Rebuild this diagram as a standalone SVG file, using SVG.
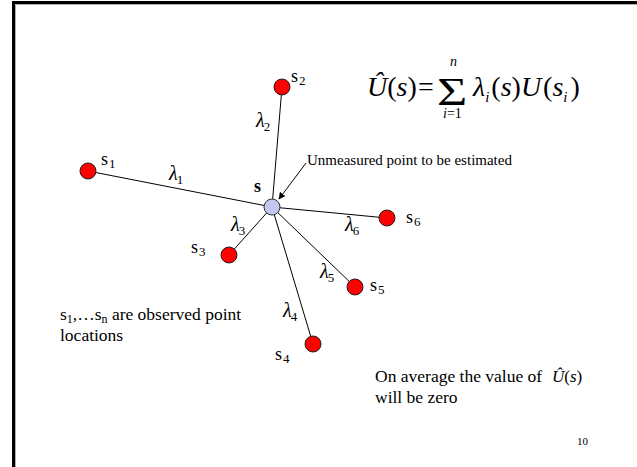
<svg xmlns="http://www.w3.org/2000/svg" width="637" height="467" viewBox="0 0 637 467">
<defs>
<marker id="arr" viewBox="0 0 10 10" refX="9" refY="5" markerWidth="7" markerHeight="7" orient="auto" markerUnits="userSpaceOnUse">
<path d="M0,0 L10,5 L0,10 z" fill="#000"/>
</marker>
<style>
text{font-family:"Liberation Serif","Times New Roman",serif;fill:#000}
.lab{font-size:18px}
.sub{font-size:13px}
.lam{font-size:20px;font-style:italic}
.lsub{font-size:13px;font-style:normal}
.obs{fill:#ff0000;stroke:#222;stroke-width:1}
.ctr{fill:#c6c6f2;stroke:#333;stroke-width:1}
.edge{stroke:#000;stroke-width:1;fill:none}
.it{font-style:italic}
.note{font-size:17.5px}
</style>
</defs>
<rect width="637" height="467" fill="#fff"/>
<path d="M13.5,467 V2.5 H637" fill="none" stroke="#000" stroke-width="3"/>
<path d="M15.5,467 V4.5 H637" fill="none" stroke="#999" stroke-width="0.8"/>

<g id="connectors">
<line class="edge" x1="88" y1="171" x2="272" y2="207"/>
<line class="edge" x1="282" y1="87" x2="272" y2="207"/>
<line class="edge" x1="229" y1="255" x2="272" y2="207"/>
<line class="edge" x1="387" y1="218" x2="272" y2="207"/>
<line class="edge" x1="355" y1="287" x2="272" y2="207"/>
<line class="edge" x1="313" y1="344" x2="272" y2="207"/>
<line class="edge" x1="306" y1="163" x2="279" y2="199" marker-end="url(#arr)"/>
</g>

<g id="node-s">
<circle class="ctr" cx="272" cy="207" r="8"/>
<text x="254" y="192" font-size="18" font-weight="bold">s</text>
</g>
<g id="node-s1">
<circle class="obs" cx="88" cy="171" r="8"/>
<text class="lab" x="101" y="165">s<tspan class="sub" dx="1" dy="3">1</tspan></text>
</g>
<g id="node-s2">
<circle class="obs" cx="282" cy="87" r="8"/>
<text class="lab" x="291" y="82">s<tspan class="sub" dx="1" dy="3">2</tspan></text>
</g>
<g id="node-s3">
<circle class="obs" cx="229" cy="255" r="8"/>
<text class="lab" x="191" y="253">s<tspan class="sub" dx="1" dy="3">3</tspan></text>
</g>
<g id="node-s4">
<circle class="obs" cx="313" cy="344" r="8"/>
<text class="lab" x="275" y="360">s<tspan class="sub" dx="1" dy="3">4</tspan></text>
</g>
<g id="node-s5">
<circle class="obs" cx="355" cy="287" r="8"/>
<text class="lab" x="370" y="291">s<tspan class="sub" dx="1" dy="3">5</tspan></text>
</g>
<g id="node-s6">
<circle class="obs" cx="387" cy="218" r="8"/>
<text class="lab" x="406" y="223">s<tspan class="sub" dx="1" dy="3">6</tspan></text>
</g>

<g id="weights">
<text class="lam" x="169" y="180">λ<tspan class="lsub" dx="-1" dy="4">1</tspan></text>
<text class="lam" x="256" y="127">λ<tspan class="lsub" dx="-1" dy="4">2</tspan></text>
<text class="lam" x="231" y="231">λ<tspan class="lsub" dx="-1" dy="4">3</tspan></text>
<text class="lam" x="283" y="317">λ<tspan class="lsub" dx="-1" dy="4">4</tspan></text>
<text class="lam" x="320" y="278">λ<tspan class="lsub" dx="-1" dy="4">5</tspan></text>
<text class="lam" x="345" y="231">λ<tspan class="lsub" dx="-1" dy="4">6</tspan></text>
</g>

<g id="annotation">
<text x="307" y="165" font-size="15">Unmeasured point to be estimated</text>
</g>

<g id="formula">
<text x="367" y="96" font-size="28"><tspan class="it">Û</tspan>(<tspan class="it">s</tspan>)</text>
<text x="418" y="96" font-size="28">=</text>
<text font-size="40" transform="translate(437,105) scale(1.3,1)">Σ</text>
<text x="450" y="66" font-size="14" class="it">n</text>
<text x="443" y="118" font-size="14"><tspan class="it">i</tspan>=1</text>
<text x="473" y="96" font-size="28"><tspan class="it">λ</tspan><tspan class="it" font-size="15" dy="6">i</tspan><tspan dx="2" dy="-6">(</tspan><tspan class="it">s</tspan>)<tspan class="it">U</tspan><tspan dx="2">(</tspan><tspan class="it">s</tspan><tspan class="it" font-size="15" dy="6">i</tspan><tspan dx="3" dy="-6">)</tspan></text>
</g>

<g id="notes">
<text class="note" x="60" y="320">s<tspan font-size="12" dy="3">1</tspan><tspan dy="-3">,…s</tspan><tspan font-size="12" dy="3">n</tspan><tspan dy="-3"> are observed point</tspan></text>
<text class="note" x="60" y="341">locations</text>
<text class="note" x="375" y="382">On average the value of</text>
<text x="552" y="382" font-size="17"><tspan class="it">Û</tspan>(<tspan class="it">s</tspan>)</text>
<text class="note" x="375" y="403">will be zero</text>
<text x="577" y="445" font-size="11">10</text>
</g>
</svg>
